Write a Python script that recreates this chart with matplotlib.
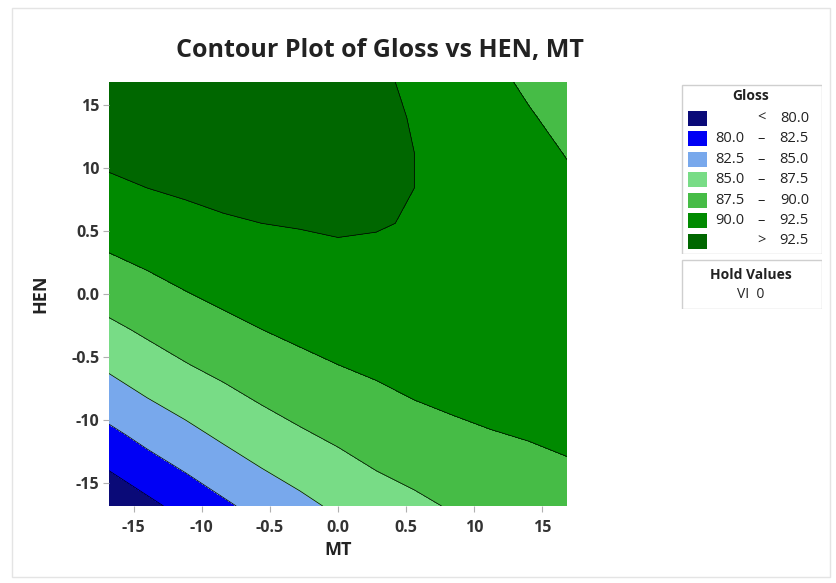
import numpy as np
import matplotlib
matplotlib.use("Agg")
import matplotlib.pyplot as plt
from matplotlib.patches import Rectangle

# === Dati (griglia 13x13, righe = HEN dal basso verso l'alto)
AXIS_LIM = 1.682
MT = np.linspace(-AXIS_LIM, AXIS_LIM, 13)
HEN = np.linspace(-AXIS_LIM, AXIS_LIM, 13)
GLOSS = [
    [77.9, 79.4, 80.8, 82.1, 83.3, 84.4, 85.4, 86.2, 87.0, 87.7, 88.3, 88.8, 89.2],
    [80.0, 81.4, 82.6, 83.8, 84.9, 85.8, 86.7, 87.5, 88.1, 88.7, 89.2, 89.5, 89.8],
    [81.9, 83.2, 84.3, 85.4, 86.3, 87.2, 87.9, 88.6, 89.1, 89.6, 89.9, 90.1, 90.3],
    [83.8, 84.9, 85.9, 86.8, 87.7, 88.4, 89.0, 89.5, 90.0, 90.3, 90.5, 90.6, 90.7],
    [85.4, 86.5, 87.4, 88.2, 88.9, 89.5, 90.0, 90.4, 90.7, 90.9, 91.0, 91.0, 90.9],
    [87.0, 87.9, 88.7, 89.4, 90.0, 90.5, 90.8, 91.1, 91.3, 91.4, 91.4, 91.3, 91.1],
    [88.5, 89.2, 89.9, 90.5, 90.9, 91.3, 91.6, 91.7, 91.8, 91.8, 91.6, 91.4, 91.1],
    [89.8, 90.4, 91.0, 91.4, 91.8, 92.0, 92.2, 92.2, 92.2, 92.0, 91.8, 91.4, 91.0],
    [91.0, 91.5, 91.9, 92.3, 92.5, 92.6, 92.7, 92.6, 92.4, 92.1, 91.8, 91.3, 90.7],
    [92.1, 92.5, 92.8, 93.0, 93.1, 93.1, 93.0, 92.8, 92.5, 92.1, 91.7, 91.1, 90.4],
    [93.0, 93.3, 93.5, 93.6, 93.6, 93.5, 93.3, 92.9, 92.5, 92.0, 91.4, 90.7, 89.9],
    [93.9, 94.0, 94.1, 94.1, 93.9, 93.7, 93.4, 92.9, 92.4, 91.8, 91.0, 90.2, 89.3],
    [94.6, 94.6, 94.6, 94.4, 94.2, 93.8, 93.4, 92.8, 92.2, 91.4, 90.6, 89.6, 88.5],
]
LIVELLI = [70.0, 80.0, 82.5, 85.0, 87.5, 90.0, 92.5, 100.0]
COLORI = ["#0a0a78", "#0000f5", "#78a8ec", "#78dc86", "#46bc46", "#008a00", "#006700"]
ETICHETTE_LEG = [("", "<", "80.0"), ("80.0", "–", "82.5"), ("82.5", "–", "85.0"),
                 ("85.0", "–", "87.5"), ("87.5", "–", "90.0"), ("90.0", "–", "92.5"),
                 ("", ">", "92.5")]
TICKS = [-1.5, -1.0, -0.5, 0.0, 0.5, 1.0, 1.5]
TICK_LABELS = ["-15", "-10", "-0.5", "0.0", "0.5", "10", "15"]

FONT = "Open Sans"
W, H = 836, 583

fig = plt.figure(figsize=(W / 100, H / 100), dpi=100)
fig.patch.set_facecolor("white")

def px(x0, y0, x1, y1):
    return [x0 / W, 1 - y1 / H, (x1 - x0) / W, (y1 - y0) / H]

# cornice leggera
fig.patches.append(Rectangle((12 / W, 6 / H), 818 / W, 569 / H, transform=fig.transFigure,
                             fill=False, edgecolor="#e4e4e4", linewidth=1))

ax = fig.add_axes(px(109, 82, 567, 506))
Z = np.array(GLOSS)
ax.contourf(MT, HEN, Z, levels=LIVELLI, colors=COLORI)
ax.contour(MT, HEN, Z, levels=LIVELLI[1:-1], colors="black", linewidths=0.5)
ax.set_xlim(-AXIS_LIM, AXIS_LIM)
ax.set_ylim(-AXIS_LIM, AXIS_LIM)
ax.set_xticks(TICKS)
ax.set_xticklabels(TICK_LABELS)
ax.set_yticks(TICKS)
ax.set_yticklabels(TICK_LABELS)
ax.tick_params(axis="x", length=4, color="#b0b0b0", labelsize=11.5, labelcolor="#333333", pad=6)
ax.tick_params(axis="y", length=4, color="#b0b0b0", labelsize=11.5, labelcolor="#333333", pad=3)
for lab in ax.get_xticklabels() + ax.get_yticklabels():
    lab.set_fontfamily(FONT)
    lab.set_fontweight("bold")
for s in ax.spines.values():
    s.set_visible(False)
ax.set_xlabel("MT", fontsize=13, fontweight="bold", family=FONT, color="#222222", labelpad=4)
ax.set_ylabel("HEN", fontsize=13, fontweight="bold", family=FONT, color="#222222", labelpad=16)

fig.text(380 / W, 1 - 50 / H, "Contour Plot of Gloss vs HEN, MT", ha="center", va="center",
         fontsize=18, fontweight="bold", family=FONT, color="#222222")

# legenda
leg = fig.add_axes(px(681, 84, 822, 254))
leg.set_xlim(681, 822)
leg.set_ylim(254, 84)
leg.axis("off")
leg.add_patch(Rectangle((681.5, 84.5), 140, 169, fill=False, edgecolor="#cfcfcf", linewidth=1))
leg.text(751, 96, "Gloss", ha="center", va="center", fontsize=10, fontweight="bold",
         family=FONT, color="#222222")
for i, (lo, seg, hi) in enumerate(ETICHETTE_LEG):
    yc = 118 + i * 20.5
    leg.add_patch(Rectangle((688, yc - 7.5), 19, 15, facecolor=COLORI[i], edgecolor="none"))
    leg.text(809, yc, hi, ha="right", va="center", fontsize=10.5,
             family=FONT, color="#222222")
    leg.text(761, yc, seg, ha="center", va="center", fontsize=10.5,
             family=FONT, color="#222222")
    if lo:
        leg.text(715, yc, lo, ha="left", va="center", fontsize=10.5,
                 family=FONT, color="#222222")

hold = fig.add_axes(px(681, 259, 822, 309))
hold.set_xlim(681, 822)
hold.set_ylim(309, 259)
hold.axis("off")
hold.add_patch(Rectangle((681.5, 259.5), 140, 49, fill=False, edgecolor="#cfcfcf", linewidth=1))
hold.text(751, 275, "Hold Values", ha="center", va="center", fontsize=10, fontweight="bold",
          family=FONT, color="#222222")
hold.text(751, 294, "VI  0", ha="center", va="center", fontsize=10,
          family=FONT, color="#222222")

fig.savefig("out.png", dpi=100)
